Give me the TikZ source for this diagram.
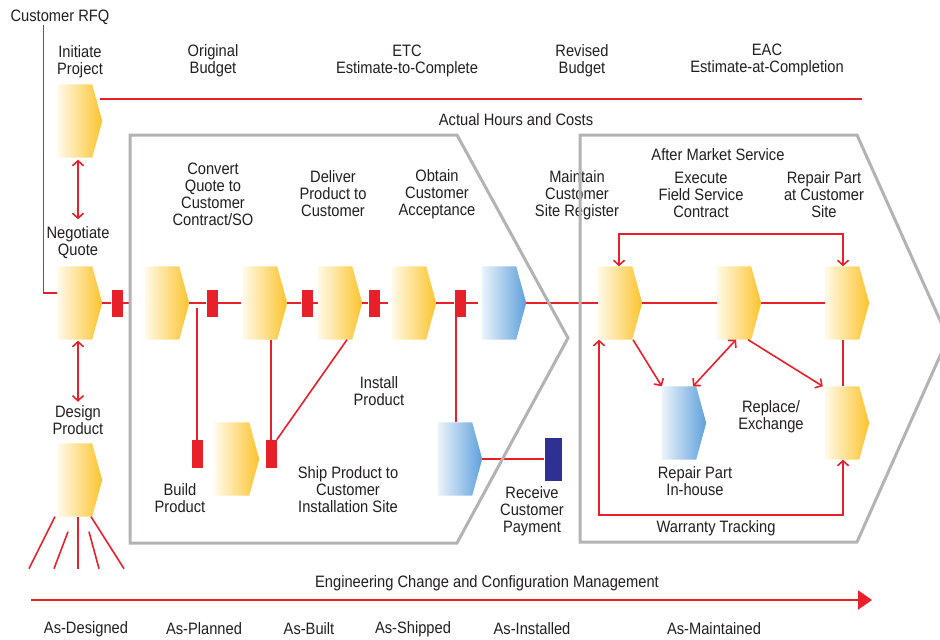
\documentclass[tikz,border=0pt]{standalone}
\usepackage{fontspec}
\setmainfont{Liberation Sans}[FakeStretch=0.89]
\usetikzlibrary{arrows.meta,calc}
\definecolor{myred}{RGB}{232,32,42}
\definecolor{mygray}{RGB}{178,180,180}
\definecolor{navy}{RGB}{46,49,146}
\definecolor{yelL}{RGB}{255,250,232}
\definecolor{yelR}{RGB}{252,195,45}
\definecolor{bluL}{RGB}{235,244,251}
\definecolor{bluR}{RGB}{95,160,220}
\definecolor{txt}{RGB}{35,31,32}
\newcommand\mkchev[4]{%
  \node[chevbox] (#1) at (#2,#3) {};
  \shade[#4] (#1.north west) -- ([xshift=-10pt]#1.north east) -- (#1.east) -- ([xshift=-10pt]#1.south east) -- (#1.south west) -- cycle;}
\begin{document}
\begin{tikzpicture}[x=1pt,y=-1pt,
  font=\fontsize{16.5}{17}\selectfont, text=txt,
  chevbox/.style={minimum width=44pt,minimum height=73pt,inner sep=0pt,draw=none},
  yel/.style={left color=yelL,right color=yelR},
  blu/.style={left color=bluL,right color=bluR},
  redbar/.style={fill=myred,draw=none,minimum width=11pt,minimum height=27pt,inner sep=0pt},
  lbl/.style={align=center,inner sep=0pt},
  conn/.style={draw=myred,line width=1.6pt},
  dbl/.style={conn,{Straight Barb[length=5pt,width=11pt]}-{Straight Barb[length=5pt,width=11pt]}},
  sgl/.style={conn,-{Straight Barb[length=5pt,width=11pt]}},
  grayframe/.style={draw=mygray,line width=3pt,line join=miter},
]
\useasboundingbox (0,0) rectangle (940,640);
\clip (0,0) rectangle (940,640);
\fill[white] (0,0) rectangle (940,640);

% chevrons
\mkchev{init}{80}{121}{yel}
\mkchev{nego}{80}{303}{yel}
\mkchev{design}{80}{480}{yel}
\mkchev{conv}{167}{303}{yel}
\mkchev{ship}{265}{303}{yel}
\mkchev{deliver}{340}{303}{yel}
\mkchev{obtain}{414}{303}{yel}
\mkchev{accept}{504}{303}{blu}
\mkchev{build}{237}{459}{yel}
\mkchev{bill}{460}{459}{blu}
\mkchev{maint}{620}{303}{yel}
\mkchev{exec}{739}{303}{yel}
\mkchev{repc}{847}{303}{yel}
\mkchev{inh}{684}{423}{blu}
\mkchev{repl}{847}{423}{yel}

% red bars
\node[redbar] (m1) at (117,303) {};
\node[redbar] (m2) at (212,303) {};
\node[redbar] (m3) at (307,303) {};
\node[redbar] (m4) at (374,303) {};
\node[redbar] (m5) at (460,303) {};
\node[redbar,minimum height=28pt] (b1) at (197,454) {};
\node[redbar,minimum height=28pt] (b2) at (271,454) {};
\node[fill=navy,minimum width=17pt,minimum height=43pt,inner sep=0pt] (pay) at (553,459) {};

% labels
\node[lbl] (rfq) at (60,17) {Customer RFQ};
\node[lbl] (initlbl) at (80,61.5) {Initiate\\Project};
\node[lbl] (origlbl) at (213,61) {Original\\Budget};
\node[lbl] (etclbl) at (407,61) {ETC\\Estimate-to-Complete};
\node[lbl] (revlbl) at (582,61) {Revised\\Budget};
\node[lbl] (eaclbl) at (767,60) {EAC\\Estimate-at-Completion};
\node[lbl] (actlbl) at (516,120) {Actual Hours and Costs};
\node[lbl] (negolbl) at (78,242.5) {Negotiate\\Quote};
\node[lbl] (designlbl) at (78,420.5) {Design\\Product};
\node[lbl] (convlbl) at (213,194.5) {Convert\\Quote to\\Customer\\Contract/SO};
\node[lbl] (dellbl) at (333,194) {Deliver\\Product to\\Customer};
\node[lbl] (obtlbl) at (437,194) {Obtain\\Customer\\Acceptance};
\node[lbl] (maintlbl) at (577,195) {Maintain\\Customer\\Site Register};
\node[lbl] (amslbl) at (718,155) {After Market Service};
\node[lbl] (execlbl) at (701,195) {Execute\\Field Service\\Contract};
\node[lbl] (repclbl) at (824,195) {Repair Part\\at Customer\\Site};
\node[lbl] (instlbl) at (379,391.5) {Install\\Product};
\node[lbl] (buildlbl) at (180,498.5) {Build\\Product};
\node[lbl] (shiplbl) at (348,489.5) {Ship Product to\\Customer\\Installation Site};
\node[lbl] (paylbl) at (532,511) {Receive\\Customer\\Payment};
\node[lbl] (inhlbl) at (695,481.5) {Repair Part\\In-house};
\node[lbl] (repllbl) at (771,417) {Replace/\\Exchange};
\node[lbl] (warlbl) at (716,528) {Warranty Tracking};
\node[lbl] (eclbl) at (487,583) {Engineering Change and Configuration Management};
\node[lbl] (asd) at (86,629) {As-Designed};
\node[lbl] (asp) at (204,629) {As-Planned};
\node[lbl] (asb) at (309,629) {As-Built};
\node[lbl] (ass) at (413,629) {As-Shipped};
\node[lbl] (asi) at (532,629) {As-Installed};
\node[lbl] (asm) at (714,629) {As-Maintained};

% coordinates for free ends
\coordinate (eacend) at (862,99);
\coordinate (ecs) at (31,600);
\coordinate (ece) at (872,600);

% top lines
\draw[conn] ([xshift=33pt]rfq.south west) |- ([xshift=-1pt,yshift=10pt]nego.west);
\draw[conn] ([xshift=-2pt,yshift=22pt]init.east) -- (eacend);
\draw[dbl] ([shift={(-2,2)}]init.south) -- ([shift={(0,-7)}]negolbl.north);
\draw[dbl] ([shift={(-2,1)}]nego.south) -- ([shift={(0,-4)}]designlbl.north);

% main row
\draw[conn] (nego.east) -- (m1.west);
\draw[conn] (m1.east) -- ++(6,0);
\draw[conn] (conv.east) -- (m2.west);
\draw[conn] (m2.east) -- ++(23,0);
\draw[conn] (ship.east) -- (m3.west);
\draw[conn] (m3.east) -- (deliver.west);
\draw[conn] (deliver.east) -- (m4.west);
\draw[conn] (m4.east) -- ++(8,0);
\draw[conn] (obtain.east) -- (m5.west);
\draw[conn] (m5.east) -- ++(12,0);
\draw[conn] (accept.east) -- (maint.west);
\draw[conn] (maint.east) -- (exec.west);
\draw[conn] (exec.east) -- (repc.west);

% middle box connectors
\draw[conn] (b1.north) -- ++(0,-132);
\draw[conn] (ship.south -| b2.north) -- (b2.north);
\draw[conn] (b2.north east) -- ([xshift=7pt]deliver.south);
\draw[conn] ([xshift=-4pt]m5.south) -- ([xshift=-4pt]m5.south |- bill.north);
\draw[conn] (bill.east) -- (pay.west);

% right box connectors
\draw[dbl] ([xshift=-1pt]maint.north) -- ++(0,-32.5) -| ([xshift=-4pt]repc.north);
\draw[dbl] ([xshift=-21pt]maint.south) -- ++(0,175.5) -| ([xshift=-4pt]repl.south);
\draw[sgl] ([xshift=13pt]maint.south) -- (inh.north west);
\draw[dbl] ([xshift=9pt]inh.north) -- ([xshift=-3pt]exec.south);
\draw[sgl] ([xshift=9pt]exec.south) -- ([xshift=-2pt]repl.north west);
\draw[conn] ([xshift=-4pt]repc.south) -- ([xshift=-4pt]repl.north);

% fan below design
\draw[conn] ([shift={(-25,0)}]design.south) -- ([shift={(-51,52)}]design.south);
\draw[conn] ([shift={(-12,15)}]design.south) -- ([shift={(-26,52)}]design.south);
\draw[conn] ([shift={(-2,0)}]design.south) -- ([shift={(-2,52)}]design.south);
\draw[conn] ([shift={(9,15)}]design.south) -- ([shift={(19,52)}]design.south);
\draw[conn] ([shift={(11,0)}]design.south) -- ([shift={(44,52)}]design.south);

% engineering change arrow
\draw[conn,line width=2pt,-{Triangle[length=14pt,width=19pt]}] (ecs) -- (ece);

% gray frames
\draw[grayframe] (130,135) -- (457,135) -- (568,338) -- (457,543) -- (130,543) -- cycle;
\draw[grayframe] (580,135) -- (857,135) -- (948,338) -- (857,542) -- (580,542) -- cycle;
\end{tikzpicture}
\end{document}
